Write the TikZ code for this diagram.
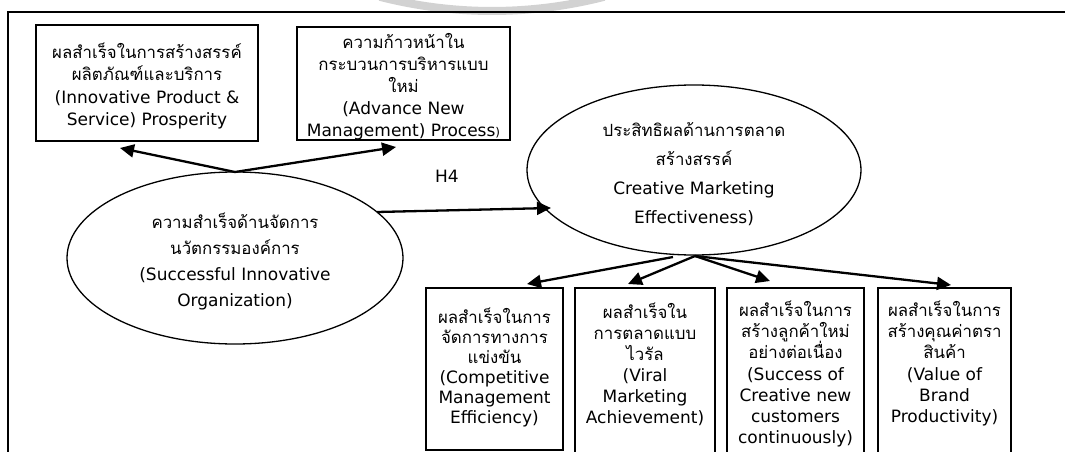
\documentclass[tikz,border=0pt]{standalone}
\usepackage{fontspec}
\setmainfont{DejaVu Sans}
\newfontfamily\thfont[Script=Thai,Scale=0.99]{Loma}
\newcommand\T[1]{{\thfont #1}}
\lineskiplimit=-100pt
\usetikzlibrary{arrows.meta,shapes.geometric}
\begin{document}
\begin{tikzpicture}[x=1pt,y=-1pt,
  font=\fontsize{17}{22.5}\selectfont,
  boxnode/.style={draw,line width=1.8pt,inner sep=0pt},
  txt/.style={align=center,inner sep=0pt},
  ellnode/.style={draw,ellipse,line width=1.3pt,inner sep=0pt},
  arr/.style={line width=2.3pt,-{Triangle[length=14pt,width=13pt]}}
]
\useasboundingbox (0,0) rectangle (1065,452);
% faint ring at the top edge
\draw[gray!35,line width=8pt] (492,-440) ++(104.4:451) arc[start angle=104.4,end angle=75.6,radius=451];
% outer frame
\draw[line width=1.8pt] (8,460) -- (8,12) -- (1075,12);

% upper boxes
\node[boxnode,minimum width=222pt,minimum height=116pt] (b1) at (147,83) {};
\node[txt] (b1t) at (147,86) {\T{ผลสำเร็จในการสร้างสรรค์}\\\T{ผลิตภัณฑ์และบริการ}\\(Innovative Product \&\\Service) Prosperity};
\node[boxnode,minimum width=213pt,minimum height=113pt] (b2) at (403.5,83.5) {};
\node[txt,font=\fontsize{17}{22}\selectfont] (b2t) at (403.5,87) {\T{ความก้าวหน้าใน}\\\T{กระบวนการบริหารแบบ}\\\T{ใหม่}\\(Advance New\\Management) Process{\fontsize{12}{12}\selectfont)}};

% latent variables
\node[ellnode,minimum width=336pt,minimum height=172pt] (e1) at (235,258) {};
\node[txt,font=\fontsize{17}{26}\selectfont] (e1t) at (235,261) {\T{ความสำเร็จด้านจัดการ}\\\T{นวัตกรรมองค์การ}\\(Successful Innovative\\Organization)};
\node[ellnode,minimum width=334pt,minimum height=170pt] (e2) at (694,170) {};
\node[txt,font=\fontsize{17}{29}\selectfont] (e2t) at (694,174) {\T{ประสิทธิผลด้านการตลาด}\\\T{สร้างสรรค์}\\Creative Marketing\\Effectiveness)};
\node[inner sep=0pt] (h4) at (447,176) {H4};

% lower boxes
\node[boxnode,minimum width=137pt,minimum height=162pt] (ba) at (494.5,369) {};
\node[txt,font=\fontsize{17}{20}\selectfont] (bat) at (494.5,367) {\T{ผลสำเร็จในการ}\\\T{จัดการทางการ}\\\T{แข่งขัน}\\(Competitive\\Management\\Efficiency)};
\node[boxnode,minimum width=140pt,minimum height=180pt] (bb) at (645,378) {};
\node[txt,font=\fontsize{17}{21}\selectfont] (bbt) at (645,364) {\T{ผลสำเร็จใน}\\\T{การตลาดแบบ}\\\T{ไวรัล}\\(Viral\\Marketing\\Achievement)};
\node[boxnode,minimum width=137pt,minimum height=180pt] (bc) at (795.5,378) {};
\node[txt,font=\fontsize{17}{21.3}\selectfont] (bct) at (795.5,374) {\T{ผลสำเร็จในการ}\\\T{สร้างลูกค้าใหม่}\\\T{อย่างต่อเนื่อง}\\(Success of\\Creative new\\customers\\continuously)};
\node[boxnode,minimum width=133pt,minimum height=180pt] (bd) at (944.5,378) {};
\node[txt,font=\fontsize{17}{21.3}\selectfont] (bdt) at (944.5,363.5) {\T{ผลสำเร็จในการ}\\\T{สร้างคุณค่าตรา}\\\T{สินค้า}\\(Value of\\Brand\\Productivity)};

% arrow end points
\coordinate (e1top) at (235,172);
\coordinate (t1) at (120,148);
\coordinate (t2) at (396,147);
\coordinate (e1r) at (377,212);
\coordinate (e2l) at (551,208);
\coordinate (e2bl) at (673,257);
\coordinate (e2b) at (695,256);
\coordinate (ta) at (527,284);
\coordinate (tb) at (628,284);
\coordinate (tc) at (770,281);
\coordinate (td) at (951,285);

\draw[arr] (e1top) -- (t1);
\draw[arr] (e1top) -- (t2);
\draw[arr] (e1r) -- (e2l);
\draw[arr] (e2bl) -- (ta);
\draw[arr] (e2b) -- (tb);
\draw[arr] (e2b) -- (tc);
\draw[arr] (e2b) -- (td);
\end{tikzpicture}
\end{document}
